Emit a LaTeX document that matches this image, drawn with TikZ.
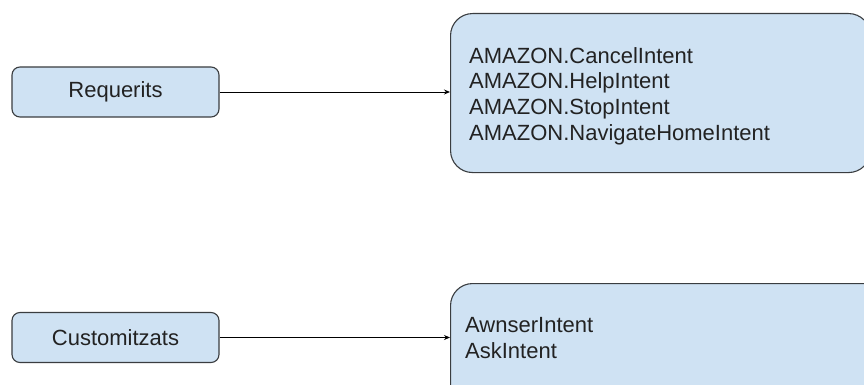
\documentclass[tikz,border=0pt]{standalone}
\usepackage{fontspec}
\setmainfont{Liberation Sans}
\usetikzlibrary{arrows.meta}
\definecolor{boxfill}{HTML}{CFE2F3}
\definecolor{boxline}{HTML}{3A3D40}
\definecolor{ink}{HTML}{222222}
\begin{document}
\begin{tikzpicture}[x=1pt,y=-1pt,
  catbox/.style={draw=boxline, line width=1.1pt, fill=boxfill, rounded corners=8pt,
    minimum width=207pt, minimum height=50pt, inner sep=0pt, text=ink,
    font=\fontsize{22}{26}\selectfont},
  listbox/.style={draw=boxline, line width=1.1pt, fill=boxfill, rounded corners=22pt,
    inner sep=0pt},
  listtext/.style={anchor=north west, inner sep=0pt, align=left, text=ink,
    font=\fontsize{22}{25.7}\selectfont},
  link/.style={draw=black, line width=0.9pt, -{Stealth[length=6pt,width=5pt]}}]
  \useasboundingbox (0,0) rectangle (864,385);
  \clip (0,0) rectangle (864,385);
  \fill[white] (0,0) rectangle (864,385);

  % left-hand categories
  \node[catbox] (req) at (115.5,92) {Requerits};
  \node[catbox] (cust) at (115.5,337.5) {Customitzats};

  % right-hand intent lists
  \node[listbox, minimum width=420pt, minimum height=159pt, anchor=north west] (built) at (450,13) {};
  \node[listbox, minimum width=440pt, minimum height=150pt, anchor=north west] (own) at (450,283) {};

  \node[listtext] (builttext) at (469,47)
    {AMAZON.CancelIntent\\AMAZON.HelpIntent\\AMAZON.StopIntent\\AMAZON.NavigateHomeIntent};
  \node[listtext] (owntext) at (465,317.5) {AwnserIntent\\AskIntent};

  % connectors
  \draw[link] (req.east) -- (req.east -| built.west);
  \draw[link] (cust.east) -- (cust.east -| own.west);
\end{tikzpicture}
\end{document}
